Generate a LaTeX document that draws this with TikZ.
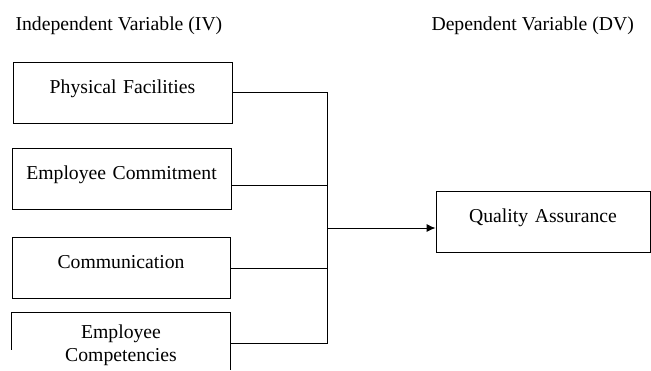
\documentclass[tikz,border=0pt]{standalone}
\usepackage{fontspec}
\setmainfont{Liberation Serif}
\usetikzlibrary{arrows, arrows.meta, calc}

\begin{document}
\begin{tikzpicture}[>={Latex[length=9bp,width=8bp]}, x=1bp, y=-1bp,
	font=\fontsize{19.7bp}{23bp}\selectfont,
	varbox/.style={draw, line width=0.9bp, inner sep=0pt, align=center,
		text height=31bp, text depth=30bp, minimum height=61bp},
	link/.style={line width=0.9bp}]
	
	\useasboundingbox (0,0) rectangle (651,370);
	
	%========================
	% headings
	%========================
	\node[anchor=base west] (ivhead) at (12,30) {Independent Variable (IV)};
	\node[anchor=base west] (dvhead) at (428,30) {Dependent Variable (DV)};
	
	%========================
	% Left: independent variables
	%========================
	\node[varbox, text width=219bp] (pf) at (122.5,92.5) {Physical Facilities};
	\node[varbox, text width=219bp] (ecm) at (121.5,178.5) {Employee Commitment};
	\node[varbox, text width=218bp] (com) at (121,268) {Communication};
	% last box runs off the page
	\node[varbox, draw=none, text width=218bp, text height=25bp, text depth=32bp,
		minimum height=0pt] (ecp) at (121,341.5) {Employee\\Competencies};
	\draw[link] ([yshift=-37bp]ecp.north west) -- (ecp.north west)
		-- (ecp.north east) -- (ecp.south east);
	
	%========================
	% Right: dependent variable
	%========================
	\node[varbox, text width=214bp] (qa) at (543,222) {Quality Assurance};
	
	% connectors
	\coordinate (bus) at (327,228);
	\draw[link] (pf.east) -| ([yshift=-1.5bp]ecp.east -| bus)
		-- ([yshift=-1.5bp]ecp.east);
	\draw[link] ([yshift=-6.5bp]ecm.east) -- ([yshift=-6.5bp]ecm.east -| bus);
	\draw[link] (com.east) -- (com.east -| bus);
	\draw[link,->] (bus) -- (bus -| qa.west);
	
\end{tikzpicture}
\end{document}
